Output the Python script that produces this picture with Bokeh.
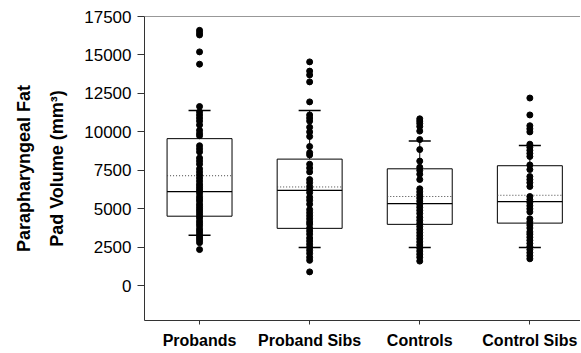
from bokeh.plotting import figure
from bokeh.models import Range1d, FixedTicker, Span, ColumnDataSource
from bokeh.embed import file_html
from bokeh.resources import INLINE

categories = ["Probands", "Proband Sibs", "Controls", "Control Sibs"]

probands = [16600, 16450, 16300, 15200, 14400, 11650, 11300, 11100, 10900, 10700,
            10450, 10100, 9900, 9750, 9100, 8900, 8700, 8300, 8100, 7900, 7600,
            7400, 7200, 7000, 6800, 6600, 6450, 6300, 6150, 6000, 5800, 5650, 5500,
            5300, 5150, 5000, 4850, 4700, 4550, 4400, 4200, 4050, 3900, 3700, 3550,
            3400, 3250, 3100, 2950, 2800, 2350]
proband_sibs = [14550, 13950, 13700, 13250, 11950, 11100, 10900, 10700, 10300, 10000,
                9700, 9050, 8650, 8500, 7900, 7650, 7400, 6900, 6700, 6450, 6250, 6050,
                5750, 5550, 5300, 4950, 4750, 4550, 4350, 4150, 4000, 3750, 3550, 3350,
                3100, 2900, 2700, 2500, 2300, 2100, 1850, 1650, 900]
controls = [10850, 10700, 10550, 10350, 10050, 9500, 8850, 8100, 7700, 7500, 7250,
            6900, 6300, 6100, 5900, 5700, 5500, 5300, 5100, 4900, 4700, 4450, 4250,
            4050, 3850, 3650, 3450, 3250, 3050, 2850, 2650, 2450, 2250, 2050, 1850, 1600]
control_sibs = [12200, 11100, 10400, 10200, 10000, 9200, 9000, 8800, 8600, 8400, 7850,
                7550, 7100, 6900, 6700, 6450, 5800, 5600, 5400, 5200, 5000, 4800, 4350,
                4150, 3950, 3750, 3500, 3350, 3150, 2950, 2750, 2550, 2350, 2150, 1950, 1750]

q1 = [4520, 3730, 3990, 4070]
median = [6120, 6200, 5340, 5470]
q3 = [9560, 8230, 7600, 7800]
mean = [7150, 6420, 5800, 5880]
whisker_low = [3280, 2480, 2480, 2480]
whisker_high = [11390, 11390, 9410, 9110]

y_ticks = [0, 2500, 5000, 7500, 10000, 12500, 15000, 17500]

x = list(range(len(categories)))
BOX_HALF = 0.295
CAP_HALF = 0.1

p = figure(width=580, height=351, output_backend="svg", toolbar_location=None,
           x_range=Range1d(-0.5, 3.46), y_range=Range1d(-2260, 17500),
           min_border_left=144, min_border_top=16, min_border_right=0, min_border_bottom=0)
p.grid.visible = False
p.outline_line_color = None
p.background_fill_color = "white"
p.border_fill_color = "white"

# axes
p.yaxis.ticker = FixedTicker(ticks=y_ticks)
p.yaxis.major_label_text_font = "Liberation Sans"
p.yaxis.major_label_text_font_size = "17px"
p.yaxis.major_label_text_color = "black"
p.yaxis.major_tick_out = 7
p.yaxis.major_tick_in = 0
p.yaxis.minor_tick_out = 0
p.yaxis.minor_tick_in = 0
p.yaxis.major_label_standoff = 6
p.yaxis.axis_line_color = "#333333"
p.yaxis.major_tick_line_color = "#333333"
p.yaxis.axis_label = "Parapharyngeal Fat\nPad Volume (mm\u00b3)"
p.yaxis.axis_label_text_font = "Liberation Sans"
p.yaxis.axis_label_text_font_style = "bold"
p.yaxis.axis_label_text_font_size = "18px"
p.yaxis.axis_label_text_line_height = 1.65
p.yaxis.axis_label_text_color = "black"
p.yaxis.axis_label_standoff = 14

p.xaxis.ticker = FixedTicker(ticks=x)
p.xaxis.major_label_overrides = {i: c for i, c in zip(x, categories)}
p.xaxis.major_label_text_font = "Liberation Sans"
p.xaxis.major_label_text_font_style = "bold"
p.xaxis.major_label_text_font_size = "16px"
p.xaxis.major_label_text_color = "black"
p.xaxis.major_tick_out = 4
p.xaxis.major_tick_in = 0
p.xaxis.minor_tick_out = 0
p.xaxis.minor_tick_in = 0
p.xaxis.major_label_standoff = 7
p.xaxis.axis_line_color = "#333333"
p.xaxis.major_tick_line_color = "#333333"

p.add_layout(Span(location=17500, dimension="width", line_color="#333333", line_width=1))

box_src = ColumnDataSource(dict(
    x=x, x0=[i - BOX_HALF for i in x], x1=[i + BOX_HALF for i in x],
    c0=[i - CAP_HALF for i in x], c1=[i + CAP_HALF for i in x],
    q1=q1, q3=q3, median=median, mean=mean, lo=whisker_low, hi=whisker_high))

# boxes
p.vbar(x="x", width=2 * BOX_HALF, bottom="q1", top="q3", source=box_src,
       fill_color=None, line_color="black", line_width=1)
# whiskers
p.segment(x0="x", y0="q3", x1="x", y1="hi", source=box_src, line_color="black", line_width=1)
p.segment(x0="x", y0="lo", x1="x", y1="q1", source=box_src, line_color="black", line_width=1)
p.segment(x0="c0", y0="hi", x1="c1", y1="hi", source=box_src, line_color="black", line_width=1.5)
p.segment(x0="c0", y0="lo", x1="c1", y1="lo", source=box_src, line_color="black", line_width=1.5)
# mean (dotted)
p.segment(x0="x0", y0="mean", x1="x1", y1="mean", source=box_src,
          line_color="#444444", line_width=1, line_dash="1 2")
# median
p.segment(x0="x0", y0="median", x1="x1", y1="median", source=box_src,
          line_color="black", line_width=1.2)

# points
groups = [probands, proband_sibs, controls, control_sibs]
px, py = [], []
for i, g in enumerate(groups):
    px.extend([i] * len(g))
    py.extend(g)
p.scatter(px, py, size=6, color="black")

open("out.html", "w").write(file_html(p, INLINE))
